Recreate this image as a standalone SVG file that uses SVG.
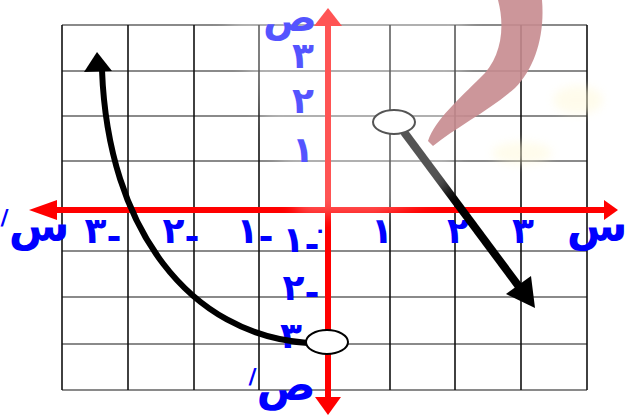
<svg xmlns="http://www.w3.org/2000/svg" width="628" height="416" viewBox="0 0 628 416">
<style>
.gv{stroke:#111;stroke-width:1.6}
.gh{stroke:#8a8a8a;stroke-width:2}
.lbl{font-family:"DejaVu Sans",sans-serif;font-weight:bold;fill:#0000ff;text-anchor:middle}
.num{font-size:36px}
.var{font-size:44px}
.ax{stroke:#ff0000;stroke-width:6;fill:none}
.head{fill:#ff0000}
</style>
<defs>
<linearGradient id="fade" gradientUnits="userSpaceOnUse" x1="394" y1="122" x2="535" y2="308">
<stop offset="0" stop-color="#000"/>
<stop offset="1" stop-color="#000"/>
</linearGradient>
<filter id="soft" x="-20%" y="-20%" width="140%" height="140%">
<feGaussianBlur stdDeviation="8"/>
</filter>
<filter id="soft2" x="-50%" y="-50%" width="200%" height="200%">
<feGaussianBlur stdDeviation="5"/>
</filter>
</defs>
<rect width="628" height="416" fill="#fff"/>
<g id="grid">
<line class="gh" x1="62" y1="25" x2="587" y2="25"/>
<line class="gh" x1="62" y1="71" x2="587" y2="71"/>
<line class="gh" x1="62" y1="116" x2="587" y2="116"/>
<line class="gh" x1="62" y1="161" x2="587" y2="161"/>
<line class="gh" x1="62" y1="251" x2="587" y2="251"/>
<line class="gh" x1="62" y1="297" x2="587" y2="297"/>
<line class="gh" x1="62" y1="344" x2="587" y2="344"/>
<line class="gh" x1="62" y1="390" x2="587" y2="390"/>
<line class="gv" x1="62" y1="25" x2="62" y2="390"/>
<line class="gv" x1="128" y1="25" x2="128" y2="390"/>
<line class="gv" x1="194" y1="25" x2="194" y2="390"/>
<line class="gv" x1="259" y1="25" x2="259" y2="390"/>
<line class="gv" x1="390" y1="25" x2="390" y2="390"/>
<line class="gv" x1="455" y1="25" x2="455" y2="390"/>
<line class="gv" x1="521" y1="25" x2="521" y2="390"/>
<line class="gv" x1="587" y1="25" x2="587" y2="390"/>
</g>
<g id="axes">
<line class="ax" x1="50" y1="210" x2="606" y2="210"/>
<polygon class="head" points="29,210 57,200 57,220"/>
<polygon class="head" points="618,210 604,200 604,220"/>
<line class="ax" x1="328" y1="22" x2="328" y2="398"/>
<polygon class="head" points="328,8 314,26 342,26"/>
<polygon class="head" points="328,415 315,397 341,397"/>
</g>
<g id="labels">
<text class="lbl num" x="382" y="243">١</text>
<text class="lbl num" x="458" y="243">٢</text>
<text class="lbl num" x="523" y="243">٣</text>
<text class="lbl var" x="597" y="241">س</text>
<text class="lbl num" x="103" y="243">٣<tspan dy="6">-</tspan></text>
<text class="lbl num" x="181" y="243">٢<tspan dy="6">-</tspan></text>
<text class="lbl num" x="255" y="243">١<tspan dy="6">-</tspan></text>
<text class="lbl var" x="35" y="241" direction="rtl">س<tspan font-size="22" dy="-16">/</tspan></text>
<text class="lbl num" x="303" y="68">٣</text>
<text class="lbl num" x="303" y="113">٢</text>
<text class="lbl num" x="303" y="162">١</text>
<text class="lbl num" x="301" y="252">١<tspan dy="5">-</tspan></text>
<text class="lbl" x="320" y="237" font-size="20">٠</text>
<text class="lbl num" x="301" y="300">٢<tspan dy="5">-</tspan></text>
<text class="lbl num" x="291" y="348">٣</text>
<text class="lbl" x="290" y="31" font-size="40">ص</text>
<text class="lbl var" x="282" y="400" direction="rtl">ص<tspan font-size="22" dy="-16">/</tspan></text>
</g>
<g id="connectors">
<path d="M102,70 C108,230 190,335 308,343" fill="none" stroke="#000" stroke-width="6"/>
<polygon points="97,52 84,72 112,71" fill="#000"/>
<line x1="404" y1="132" x2="520" y2="288" stroke="url(#fade)" stroke-width="8"/>
<polygon points="535,308 506,294 531,276" fill="#000"/>
</g>
<g id="node-open-bottom">
<ellipse cx="327" cy="342" rx="21" ry="12" fill="#fff" stroke="#000" stroke-width="2"/>
</g>
<g id="node-open-top">
<ellipse cx="394" cy="122" rx="21" ry="12" fill="#fff" stroke="#000" stroke-width="2"/>
</g>
<g id="watermark">
<path d="M213,-20 L300,215 L378,215 L452,190 L470,-20 Z" fill="#fff" opacity="0.33" filter="url(#soft)"/>
<path d="M498,0 C506,30 500,60 480,78 C460,98 435,120 428,141 L433,146 C455,128 490,110 515,88 C535,68 545,35 542,0 Z" fill="#c68b8f" opacity="0.9"/>
<ellipse cx="578" cy="100" rx="25" ry="14" fill="#fff8d4" opacity="0.45" filter="url(#soft2)"/>
<ellipse cx="522" cy="153" rx="30" ry="11" fill="#fff8d4" opacity="0.45" filter="url(#soft2)"/>
</g>
</svg>
